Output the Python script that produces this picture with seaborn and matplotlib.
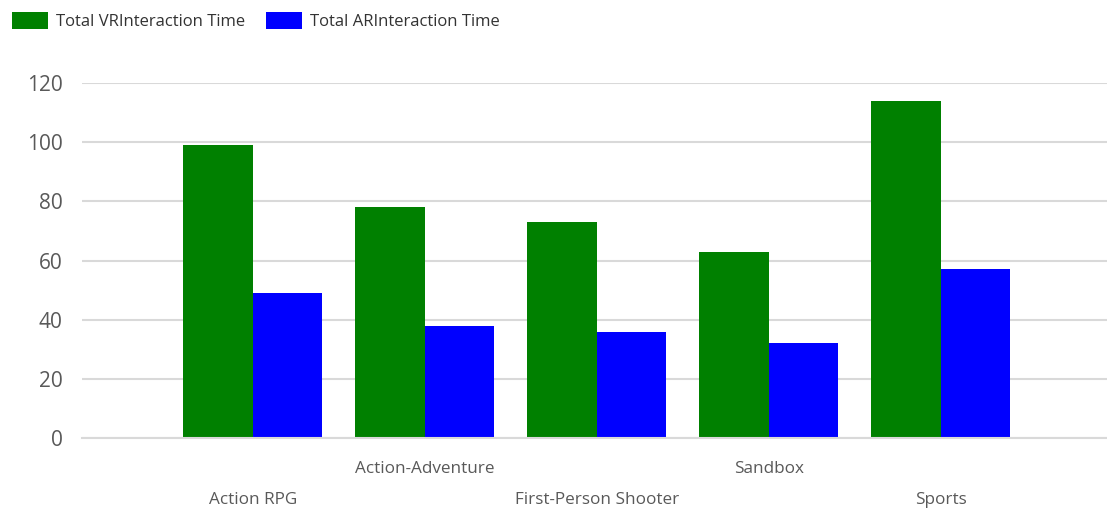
import matplotlib
matplotlib.use("Agg")
import matplotlib.pyplot as plt
import seaborn as sns
import pandas as pd
from matplotlib.patches import Patch

# Data
genres = ["Action RPG", "Action-Adventure", "First-Person Shooter", "Sandbox", "Sports"]
vr_time = [99, 78, 73, 63, 114]
ar_time = [49, 38, 36, 32, 57]
series_names = ["Total VRInteraction Time", "Total ARInteraction Time"]
series_colors = ["#008000", "#0000FF"]
y_ticks = [0, 20, 40, 60, 80, 100, 120]

df = pd.DataFrame({
    "Genre": genres * 2,
    "Series": [series_names[0]] * len(genres) + [series_names[1]] * len(genres),
    "Time": vr_time + ar_time,
})

sns.set_theme(style="white")
plt.rcParams["font.family"] = ["Open Sans", "DejaVu Sans"]

fig = plt.figure(figsize=(11.07, 5.08), dpi=100)
ax = fig.add_axes([0.0741, 0.1378, 0.9259, 0.6988])

sns.barplot(
    data=df, x="Genre", y="Time", hue="Series", order=genres,
    hue_order=series_names, palette=series_colors, width=0.81,
    saturation=1.0, ax=ax, legend=False, linewidth=0,
)

ax.set_ylim(0, 120)
ax.set_xlim(-0.993, 4.968)
ax.set_yticks(y_ticks)
ax.set_yticklabels([str(v) for v in y_ticks], fontsize=15, color="#595959")
ax.yaxis.grid(True, color="#d9d9d9", linewidth=1.5)
ax.set_axisbelow(True)
for side in ["top", "right", "left"]:
    ax.spines[side].set_visible(False)
ax.spines["bottom"].set_color("#d9d9d9")
ax.spines["bottom"].set_linewidth(1.5)
ax.set_xlabel("")
ax.set_ylabel("")

# Staggered category labels: odd positions on the upper row, even on the lower row
pos = list(range(len(genres)))
ax.set_xticks(pos[1::2], genres[1::2])
ax.set_xticks(pos[0::2], genres[0::2], minor=True)
ax.tick_params(axis="x", which="major", length=0, pad=16.8, labelsize=12.3, labelcolor="#595959")
ax.tick_params(axis="x", which="minor", length=0, pad=38.8, labelsize=12.3, labelcolor="#595959")
ax.tick_params(axis="y", length=0, pad=14)

handles = [Patch(facecolor=c, edgecolor="none") for c in series_colors]
fig.legend(
    handles, series_names, loc="upper left", bbox_to_anchor=(0.0, 1.0),
    ncol=2, frameon=False, fontsize=12, handlelength=2.2, handleheight=1.25,
    handletextpad=0.45, columnspacing=1.25, borderaxespad=0.3,
    labelcolor="#333333",
)

fig.savefig("out.png", dpi=100)
